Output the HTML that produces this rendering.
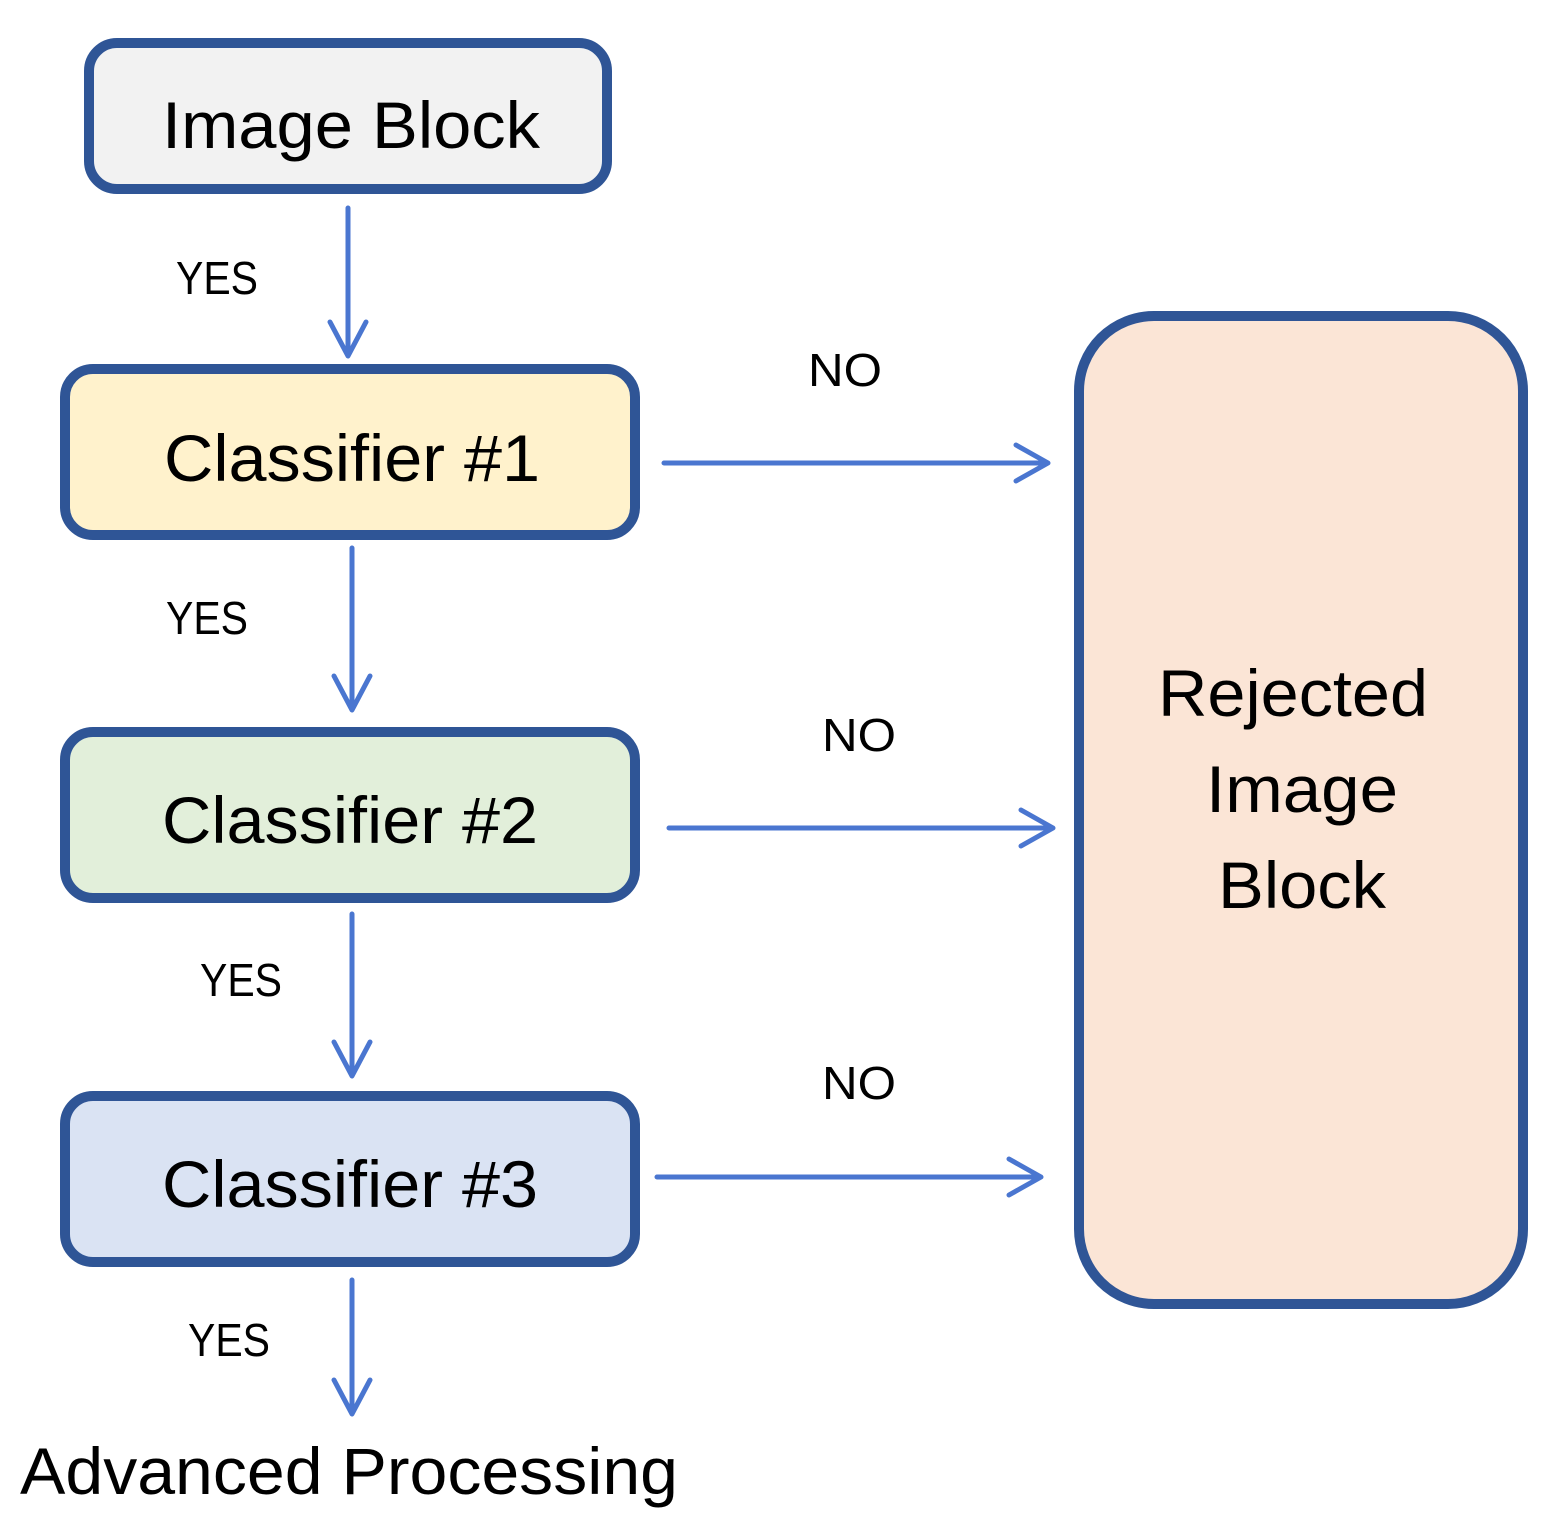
<!DOCTYPE html>
<html><head><meta charset="utf-8"><style>
html,body{margin:0;padding:0;background:#fff;}
svg{display:block;}
text{font-family:"Liberation Sans",sans-serif;fill:#000;}
</style></head><body>
<svg width="1560" height="1539" viewBox="0 0 1560 1539" xmlns="http://www.w3.org/2000/svg">
<g stroke="#2f5596" stroke-width="10">
<rect x="89" y="43" width="518" height="146" rx="28" fill="#f2f2f2"/>
<rect x="65" y="369" width="570" height="166" rx="28" fill="#fff2cc"/>
<rect x="65" y="732" width="570" height="166" rx="28" fill="#e2efda"/>
<rect x="65" y="1096" width="570" height="166" rx="28" fill="#dae3f3"/>
<rect x="1079" y="316" width="444" height="988" rx="75" fill="#fbe5d6"/>
</g>
<g stroke="#4a76d0" stroke-width="5" fill="none" stroke-linecap="round" stroke-linejoin="round">
<path d="M348 208 V356 M330 322 L348 356 L366 322"/>
<path d="M352 548 V710 M334 676 L352 710 L370 676"/>
<path d="M352 914 V1076 M334 1042 L352 1076 L370 1042"/>
<path d="M352 1280 V1414 M334 1380 L352 1414 L370 1380"/>
<path d="M664 463 H1048 M1016 445 L1048 463 L1016 481"/>
<path d="M669 828 H1053 M1021 810 L1053 828 L1021 846"/>
<path d="M657 1177 H1041 M1009 1159 L1041 1177 L1009 1195"/>
</g>
<text x="162" y="148" font-size="66" textLength="378" lengthAdjust="spacingAndGlyphs">Image Block</text>
<text x="164" y="481" font-size="66" textLength="376" lengthAdjust="spacingAndGlyphs">Classifier #1</text>
<text x="162" y="843" font-size="66" textLength="376" lengthAdjust="spacingAndGlyphs">Classifier #2</text>
<text x="162" y="1207" font-size="66" textLength="376" lengthAdjust="spacingAndGlyphs">Classifier #3</text>
<text x="1158" y="716" font-size="66" textLength="270" lengthAdjust="spacingAndGlyphs">Rejected</text>
<text x="1206" y="812" font-size="66" textLength="192" lengthAdjust="spacingAndGlyphs">Image</text>
<text x="1218" y="908" font-size="66" textLength="168" lengthAdjust="spacingAndGlyphs">Block</text>
<text x="20" y="1494" font-size="66" textLength="658" lengthAdjust="spacingAndGlyphs">Advanced Processing</text>
<g font-size="46">
<text x="176" y="294" textLength="82" lengthAdjust="spacingAndGlyphs">YES</text>
<text x="166" y="634" textLength="82" lengthAdjust="spacingAndGlyphs">YES</text>
<text x="200" y="996" textLength="82" lengthAdjust="spacingAndGlyphs">YES</text>
<text x="188" y="1356" textLength="82" lengthAdjust="spacingAndGlyphs">YES</text>
<text x="808" y="386" textLength="74" lengthAdjust="spacingAndGlyphs">NO</text>
<text x="822" y="751" textLength="74" lengthAdjust="spacingAndGlyphs">NO</text>
<text x="822" y="1099" textLength="74" lengthAdjust="spacingAndGlyphs">NO</text>
</g>
</svg>
</body></html>
